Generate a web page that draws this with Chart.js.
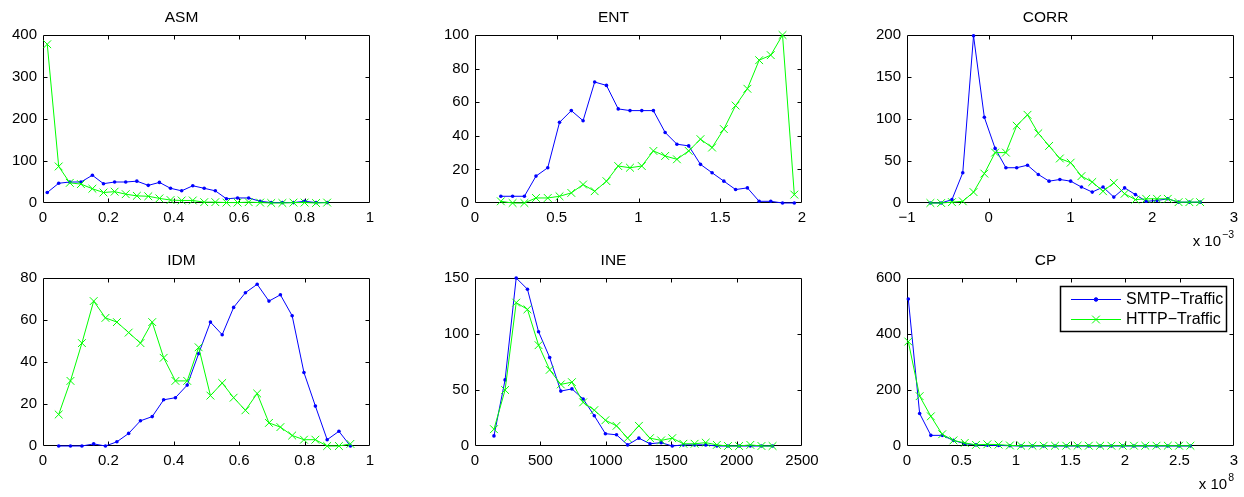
<!DOCTYPE html>
<html><head><meta charset="utf-8">
<script src="https://cdn.jsdelivr.net/npm/chart.js@4/dist/chart.umd.min.js"></script>
<style>
html,body{margin:0;padding:0;background:#fff;}
#wrap{position:relative;width:1244px;height:497px;overflow:hidden;background:#fff;}
canvas{position:absolute;}
</style></head><body><div id="wrap"></div>
<script>
// ---------- DATA ----------
const seriesNames = ['SMTP\u2212Traffic', 'HTTP\u2212Traffic'];

const asmX    = [0.013,0.048,0.082,0.116,0.151,0.185,0.219,0.253,0.287,0.322,0.356,0.390,0.424,0.458,0.493,0.527,0.561,0.595,0.629,0.664,0.698,0.732,0.766,0.800,0.835,0.869];
const asmSmtp = [25,47,50,50,66,46,50,50,52,42,49,35,29,41,35,29,10,12,12,4,1,1,1,4,1,1];
const asmHttp = [378,87,48,45,34,25,27,21,17,16,11,7,6,6,2,2,1,1,2,1,0,0,1,1,0,1];

const entX    = [0.158,0.230,0.302,0.373,0.445,0.517,0.589,0.661,0.732,0.804,0.876,0.948,1.020,1.091,1.163,1.235,1.307,1.379,1.450,1.522,1.594,1.666,1.738,1.809,1.881,1.953];
const entSmtp = [4,4,4,16,21,48,55,49,72,70,56,55,55,55,42,35,34,23,18,13,8,9,1,1,0,0];
const entHttp = [1,0,0,3,3,4,6,11,7,13,22,21,22,31,28,26,31,38,33,44,58,68,85,88,100,5];

// CORR x values in units of 1e-3
const corrX    = [-0.714,-0.582,-0.450,-0.318,-0.186,-0.054,0.078,0.210,0.342,0.474,0.606,0.738,0.870,1.002,1.134,1.266,1.398,1.530,1.662,1.794,1.926,2.058,2.190,2.322,2.454,2.586];
const corrSmtp = [0,0,4,36,199,102,65,42,42,45,34,26,28,26,19,13,19,7,18,10,2,3,5,1,1,1];
const corrHttp = [0,0,1,2,13,35,60,60,92,105,83,68,53,48,32,25,14,24,11,4,5,5,5,1,1,1];

const idmX    = [0.048,0.084,0.119,0.155,0.191,0.226,0.262,0.298,0.334,0.369,0.405,0.441,0.476,0.512,0.548,0.583,0.619,0.655,0.691,0.726,0.762,0.798,0.833,0.869,0.905,0.940];
const idmSmtp = [0,0,0,1,0,2,6,12,14,22,23,29,44,59,53,66,73,77,69,72,62,35,19,3,7,0];
const idmHttp = [15,31,49,69,61,59,54,49,59,42,31,31,47,24,30,23,17,25,11,9,5,3,3,0,0,1];

const ineX    = [145,230,315,401,486,571,656,741,827,912,997,1082,1167,1253,1338,1423,1508,1593,1679,1764,1849,1934,2019,2105,2190,2275];
const ineSmtp = [9,59,150,140,102,79,49,51,42,27,11,10,1,7,2,3,0,1,1,1,0,0,0,0,0,0];
const ineHttp = [15,50,128,122,90,68,55,57,39,32,23,18,7,18,7,5,7,2,2,3,1,0,0,1,0,0];

// CP x values in units of 1e8
const cpX    = [0.012,0.116,0.219,0.323,0.426,0.530,0.633,0.737,0.840,0.944,1.047,1.151,1.254,1.358,1.461,1.565,1.668,1.772,1.875,1.979,2.082,2.186,2.289,2.393,2.496,2.600];
const cpSmtp = [525,116,38,38,20,8,4,3,2,1,0,0,0,0,0,0,0,0,0,0,0,0,0,0,0,0];
const cpHttp = [373,178,106,42,20,11,4,6,5,2,1,1,1,1,1,1,1,1,1,1,1,1,1,1,1,1];

// axis tick settings
const titles = ['ASM','ENT','CORR','IDM','INE','CP'];
const xRanges = [[0,1,0.2],[0,2,0.5],[-1,3,1],[0,1,0.2],[0,2500,500],[0,3,0.5]];
const yRanges = [[0,400,100],[0,100,20],[0,200,50],[0,80,20],[0,150,50],[0,600,200]];
const exponents = [null,null,'\u22123',null,null,'8'];

// ---------- LAYOUT ----------
const FONT = '"Liberation Sans", Arial, Helvetica, sans-serif';
const PW = 327, PH = 168;
const plotLefts = [43,475,907];
const plotTops = [35,278];
const AXW = 50, TH = 35, XH = 62, PR = 20, TICKLEN = 4;

const panels = [
  {x:asmX,  s:asmSmtp,  h:asmHttp},
  {x:entX,  s:entSmtp,  h:entHttp},
  {x:corrX, s:corrSmtp, h:corrHttp},
  {x:idmX,  s:idmSmtp,  h:idmHttp},
  {x:ineX,  s:ineSmtp,  h:ineHttp},
  {x:cpX,   s:cpSmtp,   h:cpHttp}
];

function fmt(v){
  const s = String(parseFloat(Number(v).toFixed(6)));
  return s.replace('-', '\u2212');
}

const boxPlugin = {
  id:'boxTicks',
  beforeDatasetsDraw(chart){
    const {ctx, chartArea:a, scales:{x,y}} = chart;
    ctx.save();
    ctx.strokeStyle = '#000'; ctx.lineWidth = 1;
    const L = Math.round(a.left)+0.5, R = Math.round(a.right)-0.5;
    const T = Math.round(a.top)+0.5, B = Math.round(a.bottom)-0.5;
    ctx.beginPath();
    ctx.rect(L, T, R-L, B-T);
    x.ticks.forEach(t=>{
      const p = Math.round(x.getPixelForValue(t.value))+0.5;
      if (p <= L+1 || p >= R-1) return;
      ctx.moveTo(p,B); ctx.lineTo(p,B-TICKLEN);
      ctx.moveTo(p,T); ctx.lineTo(p,T+TICKLEN);
    });
    y.ticks.forEach(t=>{
      const p = Math.round(y.getPixelForValue(t.value))+0.5;
      if (p <= T+1 || p >= B-1) return;
      ctx.moveTo(L,p); ctx.lineTo(L+TICKLEN,p);
      ctx.moveTo(R,p); ctx.lineTo(R-TICKLEN,p);
    });
    ctx.stroke();
    ctx.restore();
  }
};

function makeExpPlugin(exp){
  return {
    id:'expLabel',
    afterDraw(chart){
      if(!exp) return;
      const {ctx, chartArea:a} = chart;
      ctx.save();
      ctx.fillStyle = '#000';
      ctx.textBaseline = 'middle';
      ctx.textAlign = 'left';
      ctx.font = '15px ' + FONT;
      const base = 'x 10';
      const w = ctx.measureText(base).width;
      ctx.font = '10.5px ' + FONT;
      const ws = ctx.measureText(exp).width;
      const right = a.right;
      const left = right - w - ws - 1;
      const yc = a.bottom + 39;
      ctx.font = '15px ' + FONT;
      ctx.fillText(base, left, yc);
      ctx.font = '10.5px ' + FONT;
      ctx.fillText(exp, left + w + 1, yc - 7);
      ctx.restore();
    }
  };
}

const legendPlugin = {
  id:'matLegend',
  afterDraw(chart){
    const {ctx, chartArea:a} = chart;
    const bw = 166, bh = 45;
    const bx = Math.round(a.right) - 8 - bw, by = Math.round(a.top) + 8;
    ctx.save();
    ctx.fillStyle = '#fff';
    ctx.fillRect(bx, by, bw, bh);
    ctx.strokeStyle = '#000'; ctx.lineWidth = 1.5;
    ctx.strokeRect(bx+0.5, by+0.5, bw, bh);
    chart.data.datasets.forEach((ds, i)=>{
      const yc = by + 13.5 + i*20;
      ctx.strokeStyle = ds.borderColor; ctx.lineWidth = 1;
      ctx.beginPath(); ctx.moveTo(bx+11, yc); ctx.lineTo(bx+61, yc); ctx.stroke();
      Chart.helpers.drawPoint(ctx, {pointStyle: ds.pointStyle, radius: ds.pointRadius, borderWidth: 1, rotation:0}, bx+36, yc);
      if (ds.pointStyle === 'circle') { ctx.fillStyle = ds.borderColor; ctx.beginPath(); ctx.arc(bx+36, yc, ds.pointRadius, 0, Math.PI*2); ctx.fill(); }
      ctx.fillStyle = '#000';
      ctx.font = '16px ' + FONT;
      ctx.textBaseline = 'middle'; ctx.textAlign = 'left';
      ctx.fillText(ds.label, bx+66, yc+0.5);
    });
    ctx.restore();
  }
};

const wrap = document.getElementById('wrap');
panels.forEach((p, idx)=>{
  const col = idx % 3, row = Math.floor(idx/3);
  const cv = document.createElement('canvas');
  const W = AXW + PW + PR, H = TH + PH + XH;
  cv.width = W; cv.height = H;
  cv.style.width = W+'px'; cv.style.height = H+'px';
  cv.style.left = (plotLefts[col]-AXW)+'px';
  cv.style.top = (plotTops[row]-TH)+'px';
  wrap.appendChild(cv);
  const [xmin,xmax,xstep] = xRanges[idx];
  const [ymin,ymax,ystep] = yRanges[idx];
  const plugins = [boxPlugin, makeExpPlugin(exponents[idx])];
  if (idx === 5) plugins.push(legendPlugin);
  new Chart(cv.getContext('2d'), {
    type:'line',
    data:{datasets:[
      {label:seriesNames[0], data:p.x.map((v,i)=>({x:v,y:p.s[i]})),
       borderColor:'#0000ff', backgroundColor:'#0000ff', borderWidth:1,
       pointStyle:'circle', pointRadius:1.8, pointBorderWidth:0, pointBackgroundColor:'#0000ff',
       tension:0, clip:false, order:2},
      {label:seriesNames[1], data:p.x.map((v,i)=>({x:v,y:p.h[i]})),
       borderColor:'#00ff00', backgroundColor:'#00ff00', borderWidth:1,
       pointStyle:'crossRot', pointRadius:5.5, pointBorderWidth:1, pointBorderColor:'#00ff00',
       tension:0, clip:false, order:1}
    ]},
    options:{
      responsive:false, animation:false, devicePixelRatio:1,
      events:[],
      layout:{padding:{left:0,top:0,right:PR,bottom:0}},
      plugins:{
        legend:{display:false}, tooltip:{enabled:false},
        title:{display:true, text:titles[idx], color:'#000',
          font:{family:FONT, size:15.5, weight:'normal', lineHeight:18/15.5},
          padding:{top:9,bottom:8}}
      },
      scales:{
        x:{type:'linear', min:xmin, max:xmax,
          grid:{display:false, drawTicks:false}, border:{display:false},
          ticks:{stepSize:xstep, color:'#000', font:{family:FONT,size:15}, padding:6,
                 maxRotation:0, autoSkip:false, includeBounds:true, callback:v=>fmt(v)},
          afterFit(s){ s.height = XH; s.paddingLeft = 0; s.paddingRight = 0; }},
        y:{type:'linear', min:ymin, max:ymax,
          grid:{display:false, drawTicks:false}, border:{display:false},
          ticks:{stepSize:ystep, color:'#000', font:{family:FONT,size:15}, padding:6,
                 autoSkip:false, callback:v=>fmt(v)},
          afterFit(s){ s.width = AXW; s.paddingTop = 0; s.paddingBottom = 0; }}
      }
    },
    plugins
  });
});
</script>
</body></html>
